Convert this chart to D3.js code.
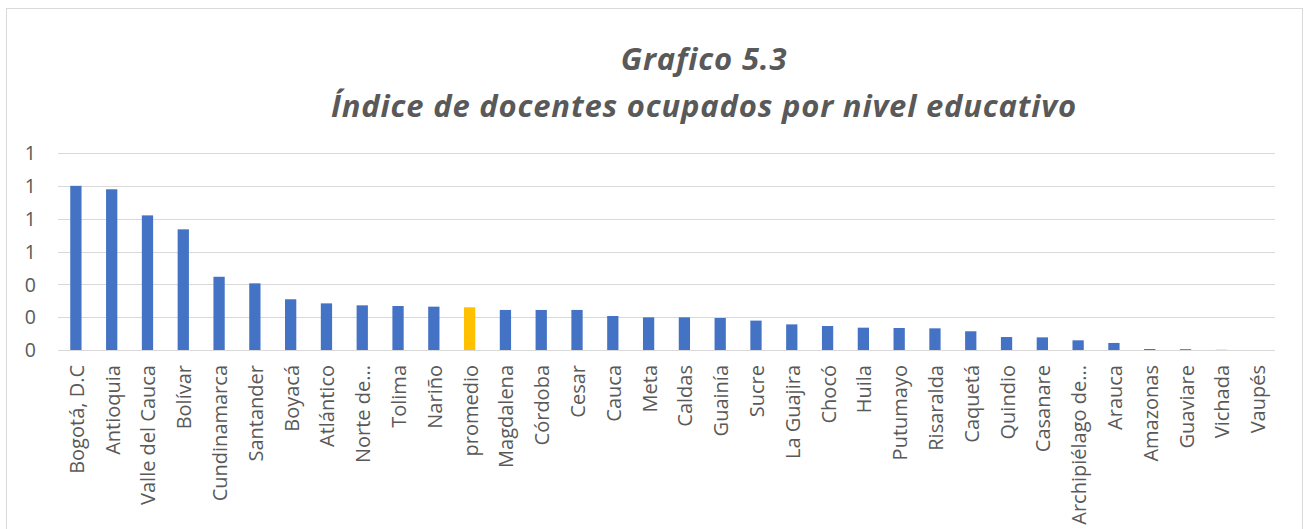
<!DOCTYPE html>
<html><head><meta charset="utf-8">
<script src="https://cdn.jsdelivr.net/npm/d3@7"></script>
<style>html,body{margin:0;padding:0;background:#fff;}svg{display:block;}</style>
</head><body>
<svg id="chart" width="1309" height="529"></svg>
<script>
const categories = ["Bogotá, D.C","Antioquia","Valle del Cauca","Bolívar","Cundinamarca","Santander","Boyacá","Atlántico","Norte de...","Tolima","Nariño","promedio","Magdalena","Córdoba","Cesar","Cauca","Meta","Caldas","Guainía","Sucre","La Guajira","Chocó","Huila","Putumayo","Risaralda","Caquetá","Quindio","Casanare","Archipiélago de...","Arauca","Amazonas","Guaviare","Vichada","Vaupés"];
const values = [1.0,0.979,0.820,0.735,0.446,0.406,0.309,0.284,0.272,0.268,0.264,0.260,0.244,0.244,0.244,0.207,0.199,0.199,0.195,0.179,0.156,0.146,0.136,0.134,0.132,0.114,0.079,0.077,0.059,0.043,0.006,0.005,0.001,0];
const highlight = ["promedio"];
const yTicks = [0,0.2,0.4,0.6,0.8,1.0,1.2];
const titleLines = ["Grafico 5.3","Índice de docentes ocupados por nivel educativo"];

const svg = d3.select("#chart");
svg.append("rect").attr("x",6.5).attr("y",8.5).attr("width",1296).attr("height",540)
  .attr("fill","#fff").attr("stroke","#d9d9d9").attr("stroke-width",1);

const x = d3.scaleBand().domain(categories).range([58,1275]).paddingInner(0.685).paddingOuter(0.3425);
const y = d3.scaleLinear().domain([0,1.2]).range([350,153]);

const g = svg.append("g");
g.selectAll("line.grid").data(yTicks).join("line")
  .attr("x1",58).attr("x2",1275)
  .attr("y1",d=>Math.round(y(d))+0.5).attr("y2",d=>Math.round(y(d))+0.5)
  .attr("stroke","#d9d9d9").attr("stroke-width",1);

const yAxis = d3.axisLeft(y).tickValues(yTicks).tickFormat(d3.format(".0f")).tickSize(0).tickPadding(0);
const ya = g.append("g").attr("transform","translate(36,0)").call(yAxis);
ya.select(".domain").remove();
ya.selectAll("text").attr("font-family","'Open Sans', sans-serif").attr("font-size",19.5).attr("fill","#595959").attr("dy","0.35em");

g.selectAll("rect.bar").data(categories).join("rect")
  .attr("x",d=>x(d)).attr("width",x.bandwidth())
  .attr("y",(d,i)=>y(values[i])).attr("height",(d,i)=>y(0)-y(values[i]))
  .attr("fill",d=>highlight.includes(d)?"#FFC000":"#4472C4");

const xAxis = d3.axisBottom(x).tickSize(0).tickPadding(0);
const xa = g.append("g").attr("transform","translate(0,350)").call(xAxis);
xa.select(".domain").remove();
xa.selectAll("text")
  .attr("font-family","'Open Sans', sans-serif").attr("font-size",20).attr("fill","#595959")
  .attr("text-anchor","end").attr("dy","0.35em").attr("y",0)
  .attr("transform","translate(1,15) rotate(-90)");

[[titleLines[0],70],[titleLines[1],117]].forEach(([t,yy])=>{
  svg.append("text").attr("x",704).attr("y",yy).attr("text-anchor","middle")
    .attr("font-family","'Open Sans', sans-serif").attr("font-weight","bold").attr("font-style","italic")
    .attr("font-size",31).attr("letter-spacing",0.8).attr("fill","#595959").text(t);
});
</script>
</body></html>
